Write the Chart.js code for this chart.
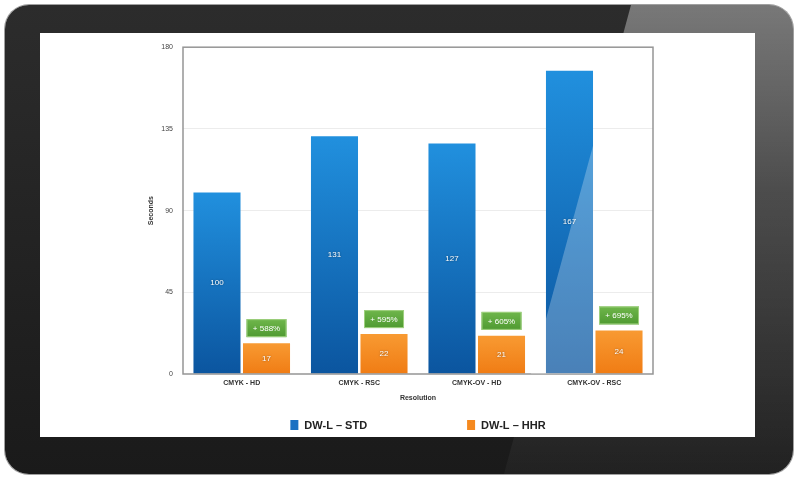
<!DOCTYPE html>
<html>
<head>
<meta charset="utf-8">
<script src="https://cdn.jsdelivr.net/npm/chart.js@4.4.0/dist/chart.umd.min.js"></script>
<style>
    html, body { margin: 0; padding: 0; width: 800px; height: 480px; overflow: hidden; background: #fff; }
    #bezel {
        position: absolute; left: 5px; top: 5px; width: 788px; height: 469px;
        border-radius: 24px; background: linear-gradient(#2c2c2c, #1a1a1a);
        box-shadow: 0 0 0 1px #a0a0a0;
    }
    #glare {
        position: absolute; left: 5px; top: 5px; width: 788px; height: 469px; border-radius: 24px;
        background: linear-gradient(to bottom, rgba(255,255,255,0.36) 0%, rgba(255,255,255,0.18) 40%, rgba(255,255,255,0.03) 100%);
        clip-path: polygon(626px 0, 788px 0, 788px 469px, 499px 469px);
    }
    #screen { position: absolute; left: 40px; top: 33px; width: 715px; height: 404px; background: #fff; }
    #screenGlare {
        position: absolute; left: 0; top: 0; width: 715px; height: 404px; pointer-events: none;
        background: rgba(255,255,255,0.26);
        clip-path: polygon(554px 109px, 554px 341px, 491px 341px);
    }
</style>
</head>
<body>
<div id="bezel"></div>
<div id="glare"></div>
<div id="screen">
    <canvas id="resolutionChart" width="715" height="404"></canvas>
    <div id="screenGlare"></div>
</div>
<script>
// Chart data
const categories = ['CMYK - HD', 'CMYK - RSC', 'CMYK-OV - HD', 'CMYK-OV - RSC'];
const seriesNames = ['DW-L \u2013 STD', 'DW-L \u2013 HHR'];
const stdValues = [100, 131, 127, 167];
const hhrValues = [17, 22, 21, 24];
const gainLabels = ['+ 588%', '+ 595%', '+ 605%', '+ 695%'];
const yTicks = [0, 45, 90, 135, 180];

const FONT = '"Liberation Sans", Arial, sans-serif';

// Vertical gradient spanning each single bar
function barGradient(topColor, bottomColor) {
    return function(context) {
        const chart = context.chart;
        if (!chart.chartArea || context.raw === undefined) return bottomColor;
        const y = chart.scales.y;
        const g = chart.ctx.createLinearGradient(0, y.getPixelForValue(context.raw), 0, y.getPixelForValue(0));
        g.addColorStop(0, topColor);
        g.addColorStop(1, bottomColor);
        return g;
    };
}

// Frame around the plot area
const framePlugin = {
    id: 'frame',
    afterDatasetsDraw(chart) {
        const { ctx, chartArea: a } = chart;
        ctx.save();
        ctx.strokeStyle = '#959595';
        ctx.lineWidth = 1.5;
        ctx.strokeRect(a.left, a.top, a.right - a.left, a.bottom - a.top);
        ctx.restore();
    }
};

// Value labels inside the bars and green gain boxes above the HHR bars
const labelPlugin = {
    id: 'barLabels',
    afterDraw(chart) {
        const ctx = chart.ctx;
        ctx.save();
        ctx.textAlign = 'center';
        ctx.textBaseline = 'middle';
        chart.data.datasets.forEach((ds, di) => {
            chart.getDatasetMeta(di).data.forEach((bar, i) => {
                ctx.font = '8px ' + FONT;
                ctx.shadowColor = 'rgba(0,0,0,0.45)';
                ctx.shadowBlur = 2;
                ctx.fillStyle = '#fff';
                ctx.fillText(String(ds.data[i]), bar.x, (bar.y + bar.base) / 2);
                ctx.shadowBlur = 0;
                if (di === 1) {
                    const w = 40, h = 18;
                    const bx = bar.x - w / 2, by = bar.y - 6 - h;
                    const g = ctx.createLinearGradient(0, by, 0, by + h);
                    g.addColorStop(0, '#6fb64b');
                    g.addColorStop(1, '#4f9a31');
                    ctx.fillStyle = g;
                    ctx.fillRect(bx, by, w, h);
                    ctx.strokeStyle = '#9fd07f';
                    ctx.lineWidth = 1;
                    ctx.strokeRect(bx + 0.5, by + 0.5, w - 1, h - 1);
                    ctx.fillStyle = '#fff';
                    ctx.font = '8px ' + FONT;
                    ctx.fillText(gainLabels[i], bar.x, by + h / 2 + 0.5);
                }
            });
        });
        ctx.restore();
    }
};

// Legend below the axis title, items spread apart
const legendPlugin = {
    id: 'wideLegend',
    afterDraw(chart) {
        const { ctx, chartArea: a } = chart;
        const colors = ['#1a70c2', '#f5891f'];
        const gap = 100, box = 8, textGap = 6, y = 392;
        ctx.save();
        ctx.font = 'bold 11px ' + FONT;
        ctx.textBaseline = 'middle';
        ctx.textAlign = 'left';
        const widths = seriesNames.map(t => box + textGap + ctx.measureText(t).width);
        let x = (a.left + a.right) / 2 - (widths[0] + gap + widths[1]) / 2;
        seriesNames.forEach((name, i) => {
            ctx.fillStyle = colors[i];
            ctx.fillRect(x, y - 5, box, 10);
            ctx.fillStyle = '#222';
            ctx.fillText(name, x + box + textGap, y + 0.5);
            x += widths[i] + gap;
        });
        ctx.restore();
    }
};

new Chart(document.getElementById('resolutionChart'), {
    type: 'bar',
    data: {
        labels: categories,
        datasets: [
            {
                label: seriesNames[0],
                data: stdValues,
                backgroundColor: barGradient('#2190de', '#0b559f'),
                barPercentage: 0.95,
                categoryPercentage: 0.843
            },
            {
                label: seriesNames[1],
                data: hhrValues,
                backgroundColor: barGradient('#f89a32', '#f07c14'),
                barPercentage: 0.95,
                categoryPercentage: 0.843
            }
        ]
    },
    options: {
        responsive: false,
        animation: false,
        layout: { padding: { left: 104, right: 102, top: 11, bottom: 0 } },
        plugins: {
            legend: { display: false },
            tooltip: { enabled: false }
        },
        scales: {
            x: {
                grid: { display: false, drawTicks: false },
                border: { display: false },
                ticks: { color: '#333', padding: 5, font: { family: FONT, size: 7, weight: 'bold' } },
                title: {
                    display: true, text: 'Resolution', color: '#333',
                    font: { family: FONT, size: 7, weight: 'bold' },
                    padding: { top: 0, bottom: 35 }
                },
                afterFit: s => { s.height = 63; }
            },
            y: {
                min: 0,
                max: 180,
                afterBuildTicks: s => { s.ticks = yTicks.map(v => ({ value: v })); },
                grid: {
                    drawTicks: false,
                    color: c => (c.tick && (c.tick.value === 0 || c.tick.value === 180)) ? 'rgba(0,0,0,0)' : '#ececec'
                },
                border: { display: false },
                ticks: { color: '#444', padding: 10, font: { family: FONT, size: 7 } },
                title: {
                    display: true, text: 'Seconds', color: '#333',
                    font: { family: FONT, size: 7, weight: 'bold' },
                    padding: { top: 3, bottom: 0 }
                },
                afterFit: s => { s.width = 39; }
            }
        }
    },
    plugins: [framePlugin, labelPlugin, legendPlugin]
});
</script>
</body>
</html>
